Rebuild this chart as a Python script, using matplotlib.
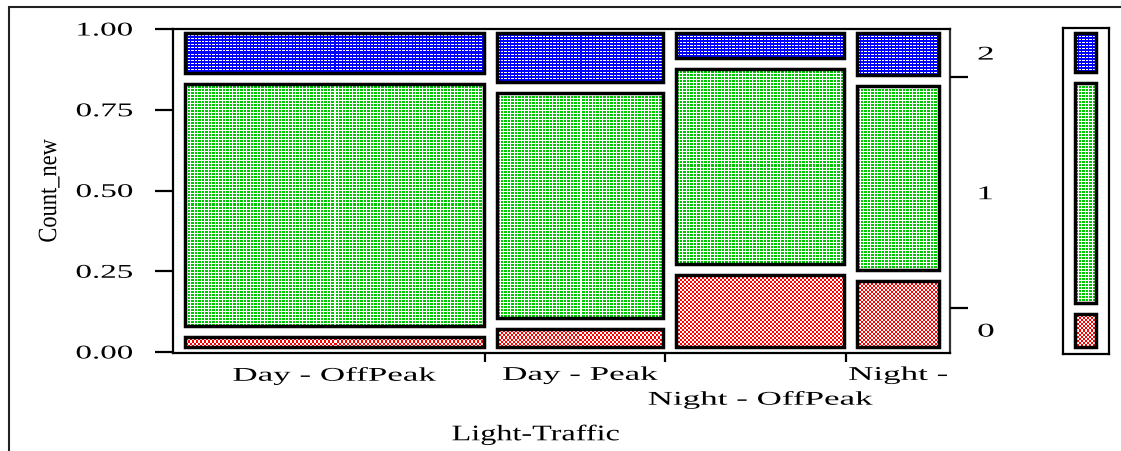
import numpy as np
import matplotlib.pyplot as plt
from matplotlib.patches import Rectangle
from matplotlib.patheffects import AbstractPathEffect
from matplotlib.transforms import Affine2D

# mosaic of Count_new by Light-Traffic
categories = ["Day - OffPeak", "Day - Peak", "Night - OffPeak", "Night - Peak"]
tick_labels = ["Day - OffPeak", "Day - Peak", "\nNight - OffPeak", "Night -"]
levels = ["0", "1", "2"]
col_share = [0.407, 0.234, 0.236, 0.123]      # share of rows in each Light-Traffic group
share_0 = [0.063, 0.087, 0.256, 0.237]        # Count_new = 0 within group
share_1 = [0.785, 0.732, 0.636, 0.605]        # Count_new = 1
share_2 = [0.152, 0.181, 0.108, 0.158]        # Count_new = 2
yticks = [0.0, 0.25, 0.5, 0.75, 1.0]

W, H = 1121, 452
fig = plt.figure(figsize=(W / 100, H / 100), dpi=100)
plt.rcParams["font.family"] = ["Liberation Serif", "DejaVu Serif"]


def box(l, t, r, b):
    return [l / W, 1 - b / H, (r - l) / W, (b - t) / H]


class Stretch(AbstractPathEffect):
    # widen the glyphs like the exported JMP text
    def __init__(self, sx, anchor="center"):
        super().__init__()
        self.sx, self.anchor = sx, anchor

    def draw_path(self, renderer, gc, tpath, affine, rgbFace=None):
        ext = tpath.get_extents()
        cx = {"left": ext.x0, "right": ext.x1}.get(self.anchor, (ext.x0 + ext.x1) / 2)
        t = Affine2D().translate(-cx, 0).scale(self.sx, 1).translate(cx, 0) + affine
        renderer.draw_path(gc, tpath, t, rgbFace)


BLUE, GREEN, RED, WHITE = (0, 0, 255), (0, 200, 0), (255, 0, 0), (255, 255, 255)
tiles = {
    "0": (["RR..", "RR..", "..RR", "..RR"], RED, WHITE),
    "1": (["GGG.GG.", "GGG.GG.", "......."], GREEN, WHITE),
    "2": (["WWW.WW.", "BBBBBBB", "BBBBBBB"], WHITE, BLUE),
}


def texture(level, wpx, hpx):
    rows, fg, bg = tiles[level]
    mask = np.array([[c not in ".B" for c in r] for r in rows])
    reps = (hpx // mask.shape[0] + 1, wpx // mask.shape[1] + 1)
    mask = np.tile(mask, reps)[:hpx, :wpx]
    return np.where(mask[..., None], np.array(fg, np.uint8), np.array(bg, np.uint8))


def cell(ax, x0, x1, y0, y1, level):
    # snap the texture to whole device pixels so no row gets doubled
    p0 = np.round(ax.transData.transform((x0, y0)))
    p1 = np.round(ax.transData.transform((x1, y1)))
    (ix0, iy0), (ix1, iy1) = ax.transData.inverted().transform([p0, p1])
    wpx, hpx = max(int(p1[0] - p0[0]), 1), max(int(p1[1] - p0[1]), 1)
    ax.imshow(texture(level, wpx, hpx), extent=(ix0, ix1, iy0, iy1), aspect="auto",
              interpolation="nearest", zorder=1)
    ax.add_patch(Rectangle((x0, y0), x1 - x0, y1 - y0, fill=False, ec="black",
                           lw=2.5, zorder=2))


# outer frame of the report (cut off at the right and bottom)
fig.add_artist(Rectangle((9 / W, -0.05), 1.2, 1.05 - 8 / H, transform=fig.transFigure,
                         fill=False, ec="#222222", lw=1.5))

ax = fig.add_axes(box(173, 30, 950, 354))
XMAX = 777 / 767
dx, dy = 1 / 767, 1 / 323
ax.set_xlim(0, XMAX)
ax.set_ylim(-dy, 1)

shares = [share_0, share_1, share_2]
edges = np.concatenate([[0], np.cumsum(col_share)])
for j, cat in enumerate(categories):
    x0 = edges[j] + 11.5 * dx
    x1 = edges[j + 1] - 1.5 * dx
    lo = 0.0
    for k, lev in enumerate(levels):
        hi = lo + shares[k][j]
        y0 = lo + 5.5 * dy
        y1 = hi - (3.5 if k == 2 else 5.5) * dy
        cell(ax, x0, x1, y0, y1, lev)
        lo = hi

for s in ax.spines.values():
    s.set_linewidth(1.6)
ax.spines["right"].set_color("#333333")

ax.set_yticks(yticks)
ax.set_yticklabels([f"{v:.2f}" for v in yticks], fontsize=14, va="center_baseline")
ax.tick_params(axis="y", length=13, width=1.6, pad=16)
plt.setp(ax.get_yticklabels(), path_effects=[Stretch(1.7, "right")])

ax.set_xticks(edges[1:4])
ax.set_xticklabels([])
ax.set_xticks((edges[:-1] + 11 * dx + edges[1:]) / 2, minor=True)
ax.set_xticklabels(tick_labels, minor=True, fontsize=14, linespacing=1.5)
ax.tick_params(axis="x", which="major", length=6.5, width=1.6)
ax.tick_params(axis="x", which="minor", length=0, pad=10)
plt.setp(ax.get_xticklabels(minor=True), path_effects=[Stretch(1.8)])

ax.set_ylabel("Count_new", fontsize=19, labelpad=27)
ax.yaxis.label.set_path_effects([Stretch(0.85)])
ax.set_xlabel("Light-Traffic", fontsize=16, labelpad=12, x=0.467)
ax.xaxis.label.set_path_effects([Stretch(1.45)])

# right axis: overall distribution of Count_new
marg = [sum(w * s for w, s in zip(col_share, sh)) for sh in shares]
cum = np.cumsum(marg)
ax2 = ax.twinx()
ax2.set_ylim(ax.get_ylim())
for s in ax2.spines.values():
    s.set_visible(False)
ax2.set_yticks(cum[:2])
ax2.set_yticklabels([])
ax2.set_yticks(cum - np.array(marg) / 2, minor=True)
ax2.set_yticklabels(levels, minor=True, fontsize=14)
ax2.tick_params(axis="y", which="major", length=13, width=1.6)
ax2.tick_params(axis="y", which="minor", length=0, pad=20)
plt.setp(ax2.get_yticklabels(minor=True), path_effects=[Stretch(1.8, "left")])

# legend bar
lg = fig.add_axes(box(1063, 29, 1109, 355))
lg.set_xlim(0, 1)
lg.set_ylim(-2 * dy, 1 + dy)
lg.set_xticks([])
lg.set_yticks([])
for s in lg.spines.values():
    s.set_linewidth(1.6)
lo = 0.0
for k, lev in enumerate(levels):
    hi = lo + marg[k]
    cell(lg, 0.27, 0.71, lo + 5.5 * dy, hi - (3.5 if k == 2 else 5.5) * dy, lev)
    lo = hi

fig.savefig("out.png", dpi=100)
